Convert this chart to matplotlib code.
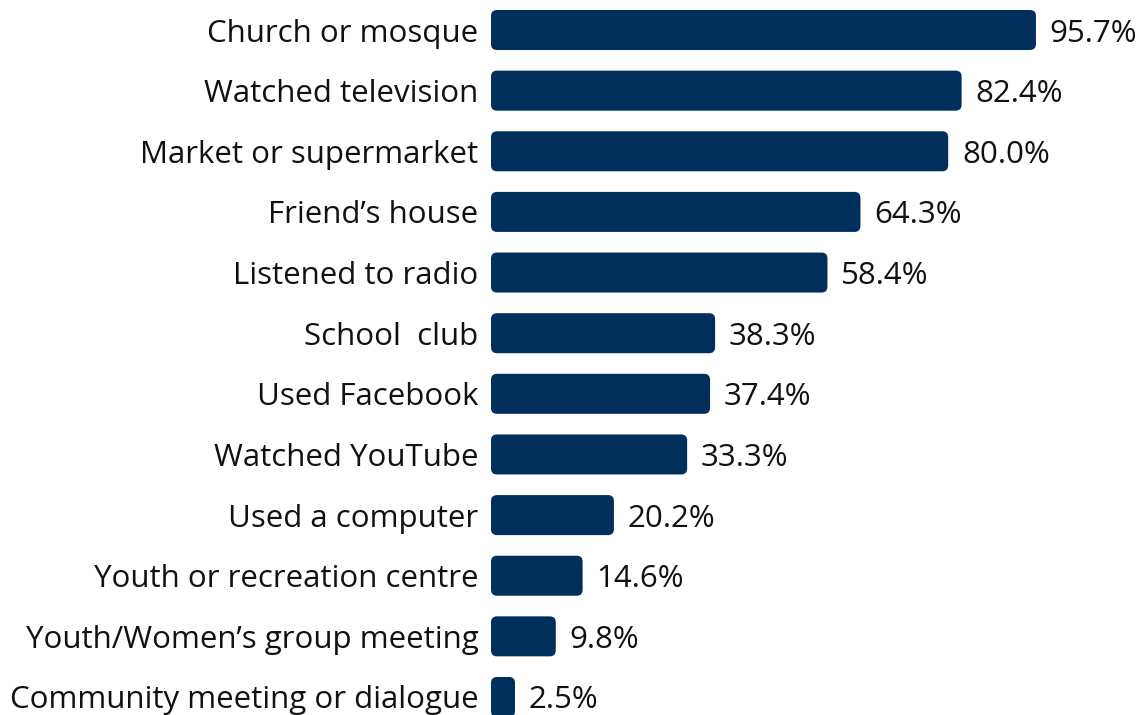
import matplotlib
matplotlib.use("Agg")
import matplotlib.pyplot as plt
from matplotlib.patches import FancyBboxPatch

kategorie = ["Church or mosque", "Watched television", "Market or supermarket",
             "Friend\u2019s house", "Listened to radio", "School  club",
             "Used Facebook", "Watched YouTube", "Used a computer",
             "Youth or recreation centre", "Youth/Women\u2019s group meeting",
             "Community meeting or dialogue"]
wartosci = [95.7, 82.4, 80.0, 64.3, 58.4, 38.3, 37.4, 33.3, 20.2, 14.6, 9.8, 2.5]
etykiety = ["95.7%", "82.4%", "80.0%", "64.3%", "58.4%", "38.3%",
            "37.4%", "33.3%", "20.2%", "14.6%", "9.8%", "2.5%"]

kolor = "#002F5B"
plt.rcParams["font.family"] = ["Open Sans", "DejaVu Sans"]

fig = plt.figure(figsize=(11.47, 7.15), dpi=100)
ax = fig.add_axes([491 / 1147, 0, 656 / 1147, 1])

skala = 5.59          # px na jednostke
start = -10 / skala   # slupki zaczynaja sie troche przed zerem

pozycje = list(range(len(kategorie)))
slupki = ax.barh(pozycje, [v - start for v in wartosci], left=start,
                 height=0.66, color="none")

# zaokraglone rogi
rx = 6 / skala
ry = 6 / 60.64
for s in slupki:
    x0, y0 = s.get_x(), s.get_y()
    w, h = s.get_width(), s.get_height()
    r = min(rx, w / 2)
    p = FancyBboxPatch((x0, y0), w, h,
                       boxstyle=f"round,pad=0,rounding_size={r}",
                       mutation_aspect=ry / rx, facecolor=kolor,
                       edgecolor="none")
    ax.add_patch(p)

for y, v, t in zip(pozycje, wartosci, etykiety):
    ax.annotate(t, (v, y), xytext=(10, 0), textcoords="offset points",
                va="center_baseline", ha="left", fontsize=22.5, color="#111111")

ax.set_xlim(start, start + 656 / skala)
ax.set_ylim(11.297, -0.495)
ax.set_yticks(pozycje)
ax.set_yticklabels(kategorie, fontsize=22.5, color="#111111")
ax.tick_params(axis="y", length=0, pad=9)
ax.set_xticks([])
for sp in ax.spines.values():
    sp.set_visible(False)

fig.savefig("out.png", dpi=100)
